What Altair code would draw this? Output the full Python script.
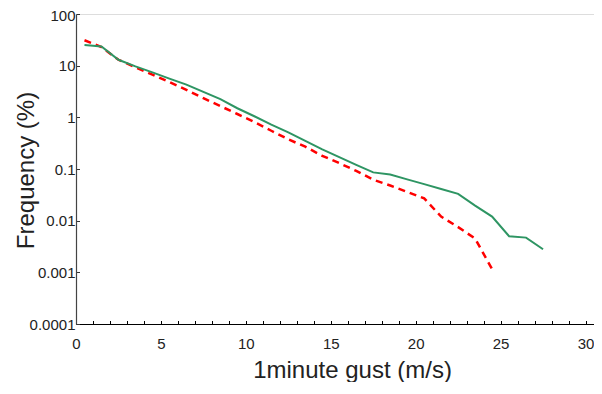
import altair as alt
import pandas as pd

# ---- data ----
green_gust = [0.5, 1.5, 2.5, 3.5, 4.5, 5.5, 6.5, 7.5, 8.5, 9.5, 10.5, 11.5, 12.5, 13.5,
              14.5, 15.5, 16.5, 17.5, 18.5, 19.5, 20.5, 21.5, 22.5, 23.5, 24.5, 25.5, 26.5, 27.5]
green_freq = [25, 23.5, 13, 9.7, 7.4, 5.6, 4.3, 3.1, 2.25, 1.5, 1.05, 0.72, 0.51, 0.35,
              0.24, 0.17, 0.12, 0.086, 0.078, 0.063, 0.051, 0.041, 0.033, 0.0196, 0.012,
              0.005, 0.0047, 0.0028]

red_gust = [0.5, 1.5, 2.5, 3.5, 4.5, 5.5, 6.5, 7.5, 8.5, 9.5, 10.5, 11.5, 12.5, 13.5,
            14.5, 15.5, 16.5, 17.5, 18.5, 19.5, 20.5, 21.5, 22.5, 23.5, 24.5]
red_freq = [31, 23, 13, 9.3, 6.7, 4.8, 3.4, 2.35, 1.65, 1.16, 0.81, 0.55, 0.375, 0.27,
            0.18, 0.13, 0.092, 0.062, 0.048, 0.036, 0.027, 0.012, 0.0075, 0.0045, 0.00115]

x_label_values = [0, 5, 10, 15, 20, 25, 30]
x_minor_ticks = [0, 1, 2, 3, 4, 5, 6, 7, 8, 9, 10, 11, 12, 13, 14, 15, 16, 17, 18, 19,
                 20, 21, 22, 23, 24, 25, 26, 27, 28, 29, 30]
y_tick_values = [0.0001, 0.001, 0.01, 0.1, 1, 10, 100]

x_title = "1minute gust (m/s)"
y_title = "Frequency (%)"

W = 518
H = 310
FONT = "Liberation Sans, Arial, Helvetica, sans-serif"

df_green = pd.DataFrame({"gust": green_gust, "freq": green_freq})
df_red = pd.DataFrame({"gust": red_gust, "freq": red_freq})

xscale = alt.Scale(domain=[0, 30.5], nice=False, zero=False)
yscale = alt.Scale(type="log", domain=[0.0001, 100], nice=False)

NB = "\u00a0"
y_label_expr = (
    "datum.value >= 5 && datum.value < 50 ? datum.label + '" + NB * 3 + "' : "
    "(datum.value >= 0.5 && datum.value < 5 ? datum.label + '" + NB * 2 + "' : "
    "(datum.value >= 0.005 ? datum.label + '" + NB + "' : datum.label))"
)

# red dashed line, carrying the inward tick-only axes
red_line = alt.Chart(df_red).mark_line(
    color="#ff0000", strokeWidth=2.5, strokeDash=[7, 5]
).encode(
    x=alt.X("gust:Q", scale=xscale,
            axis=alt.Axis(orient="top", offset=-H, values=x_minor_ticks, labels=False,
                          domain=False, ticks=True, tickSize=3.5, tickColor="#000",
                          tickWidth=1, grid=False, title=None)),
    y=alt.Y("freq:Q", scale=yscale,
            axis=alt.Axis(orient="right", offset=-W, values=y_tick_values, labels=False,
                          domain=False, ticks=True, tickSize=3.5, tickColor="#333",
                          tickWidth=1, grid=False, title=None)),
)

green_line = alt.Chart(df_green).mark_line(
    color="#2e9563", strokeWidth=2
).encode(
    x=alt.X("gust:Q", scale=xscale,
            axis=alt.Axis(orient="bottom", values=x_label_values, ticks=False, tickSize=0,
                          labelPadding=12, labelFontSize=15, labelFont=FONT,
                          labelColor="#222", labelFlush=False, labelOverlap=False,
                          domainColor="#000", domainWidth=1.2, grid=False,
                          title=x_title, titleFont=FONT, titleFontSize=24,
                          titleFontWeight="normal", titleColor="#222",
                          titleX=276, titleY=53, titleAlign="center",
                          titleBaseline="alphabetic")),
    y=alt.Y("freq:Q", scale=yscale,
            axis=alt.Axis(orient="left", values=y_tick_values, format="~g",
                          labelExpr=y_label_expr, ticks=False,
                          tickSize=0, labelPadding=1, labelFontSize=15, labelFont=FONT,
                          labelAlign="right",
                          labelOffset={"condition": {"test": "datum.value >= 50", "value": 1.6},
                                       "value": 0},
                          labelColor="#222", labelOverlap=False, labelFlush=False,
                          domainColor="#444", domainWidth=1.2, grid=False,
                          title=y_title, titleFont=FONT, titleFontSize=24,
                          titleFontWeight="normal", titleColor="#222",
                          titleX=-50, titleY=156, titleAngle=-90,
                          titleBaseline="middle", titleAlign="center")),
)

chart = alt.layer(red_line, green_line).resolve_axis(
    x="independent", y="independent"
).properties(
    width=W, height=H,
    autosize=alt.AutoSizeParams(type="none"),
    padding={"left": 68, "top": 6, "right": 0, "bottom": 58},
).configure_view(stroke=None).configure(background="white")

chart.save("out.html", embed_options={"renderer": "svg", "actions": False})
